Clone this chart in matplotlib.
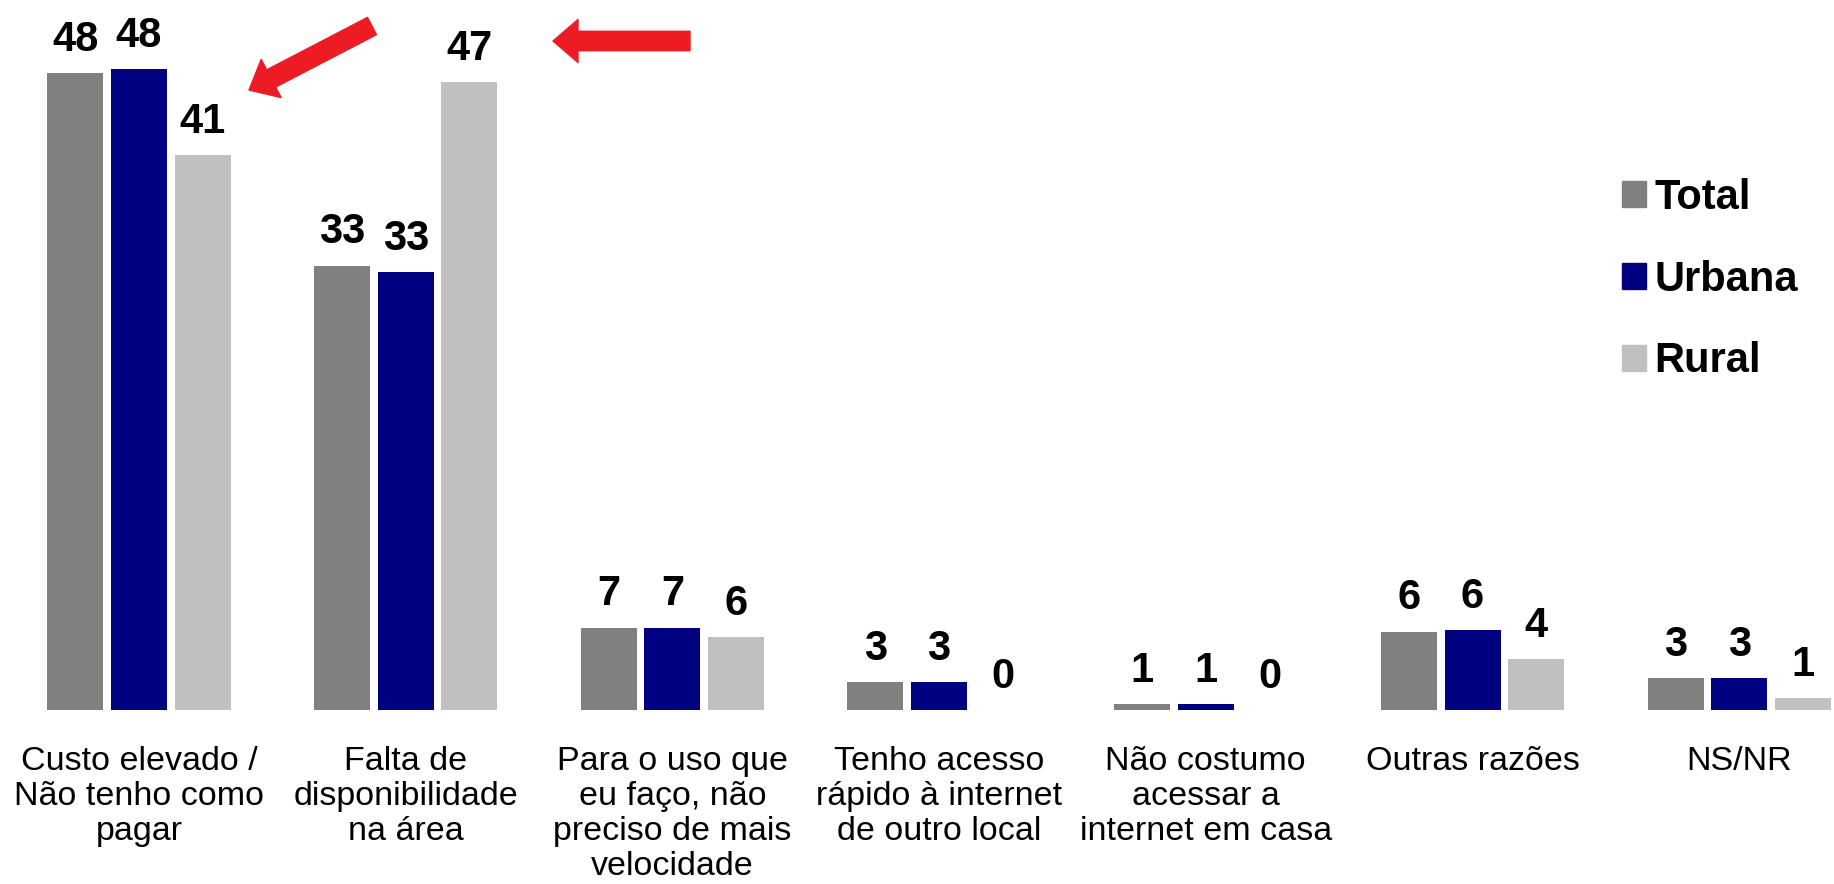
import matplotlib.pyplot as plt
from matplotlib.patches import Patch

plt.rcParams['font.family'] = ['Liberation Sans', 'DejaVu Sans']

categories = ["Custo elevado /\nNão tenho como\npagar", "Falta de\ndisponibilidade\nna área",
              "Para o uso que\neu faço, não\npreciso de mais\nvelocidade",
              "Tenho acesso\nrápido à internet\nde outro local", "Não costumo\nacessar a\ninternet em casa",
              "Outras razões", "NS/NR"]
series = ["Total", "Urbana", "Rural"]
colors = ["#808080", "#000080", "#C0C0C0"]

# bar heights, printed labels as shown
total = [47.9, 33.4, 6.2, 2.1, 0.45, 5.9, 2.4]
urbana = [48.2, 32.9, 6.2, 2.1, 0.45, 6.0, 2.4]
rural = [41.7, 47.2, 5.5, 0, 0, 3.8, 0.9]
total_lbl = [48, 33, 7, 3, 1, 6, 3]
urbana_lbl = [48, 33, 7, 3, 1, 6, 3]
rural_lbl = [41, 47, 6, 0, 0, 4, 1]

fig = plt.figure(figsize=(18.34, 8.84), dpi=100)
ax = fig.add_axes([0, (884 - 710) / 884, 1, 710 / 884])

step = 63.7 / 266.7
width = 56 / 266.7
x = list(range(len(categories)))
for k, (vals, lbls) in enumerate(zip([total, urbana, rural], [total_lbl, urbana_lbl, rural_lbl])):
    xs = [i + (k - 1) * step for i in x]
    ax.bar(xs, vals, width=width, color=colors[k], label=series[k])
    for xi, v, l in zip(xs, vals, lbls):
        ax.annotate(str(l), (xi, v), xytext=(0, 24), textcoords='offset points',
                    ha='center', va='center', fontsize=30, fontweight='bold')

ax.set_xlim(-139 / 266.7, (1834 - 139) / 266.7)
ax.set_ylim(0, 710 / 13.3)
ax.set_xticks(x)
ax.set_xticklabels(categories, fontsize=24.5, linespacing=1.16, va='top')
ax.tick_params(axis='x', length=0, pad=26)
ax.set_yticks([])
for s in ax.spines.values():
    s.set_visible(False)

handles = [Patch(color=c, label=s) for c, s in zip(colors, series)]
fig.legend(handles=handles, loc='upper left', bbox_to_anchor=(1622 / 1834, 1 - 178 / 884),
           frameon=False, prop={'weight': 'bold', 'size': 30}, handlelength=0.58, handleheight=0.58,
           handletextpad=0.2, labelspacing=1.0, borderpad=0, borderaxespad=0)

red = "#ED1C24"
arrow = dict(arrowstyle="simple,head_width=31,head_length=18,tail_width=14", mutation_scale=1,
             color=red, shrinkA=0, shrinkB=0)
ax.annotate("", xy=(249, 884 - 90), xycoords='figure pixels', xytext=(372, 884 - 26),
            textcoords='figure pixels', arrowprops=arrow)
ax.annotate("", xy=(553, 884 - 41), xycoords='figure pixels', xytext=(690, 884 - 41),
            textcoords='figure pixels', arrowprops=arrow)

fig.savefig("out.png", dpi=100)
